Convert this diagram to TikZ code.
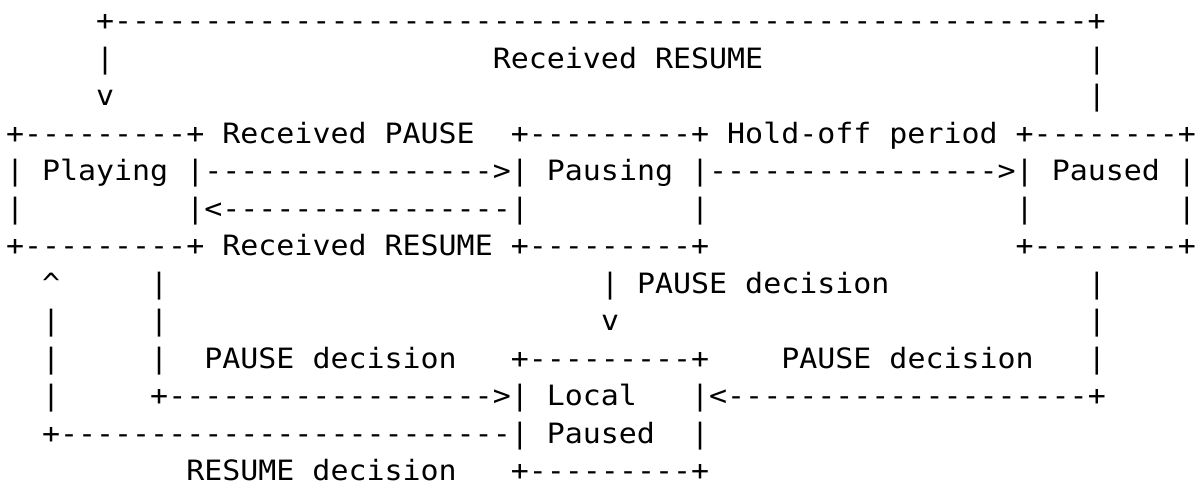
\documentclass[tikz,border=0pt]{standalone}
\usepackage{fontspec}
\setmonofont{DejaVu Sans Mono}[FakeStretch=1.0695]
\newcommand\dashrun[1]{\foreach\nd in {1,...,#1}{-}}

\begin{document}
\begin{tikzpicture}[x=9.015pt,y=-18.75pt,
  chars/.style={anchor=base west,inner sep=0pt,outer sep=0pt,
    font=\ttfamily\fontsize{14pt}{18pt}\selectfont}]
\useasboundingbox (-3pt,-3.5pt) rectangle (598pt,-247.5pt);

% row 1-3: Paused back to Playing
\node[chars] (topline) at (5,1) {+\dashrun{54}+};
\node[chars] (topleftA) at (5,2) {|};
\node[chars] (lblresumeA) at (27,2) {Received RESUME};
\node[chars] (toprightA) at (60,2) {|};
\node[chars] (topleftB) at (5,3) {v};
\node[chars] (toprightB) at (60,3) {|};

% row 4-7: Playing, Pausing, Paused
\node[chars] (playingtop) at (0,4) {+\dashrun{9}+};
\node[chars] (lblpause) at (12,4) {Received PAUSE};
\node[chars] (pausingtop) at (28,4) {+\dashrun{9}+};
\node[chars] (lblholdoff) at (40,4) {Hold-off period};
\node[chars] (pausedtop) at (56,4) {+\dashrun{8}+};

\node[chars] (playing) at (0,5) {| Playing |};
\node[chars] (arrowA) at (11,5) {\dashrun{16}>};
\node[chars] (pausing) at (28,5) {| Pausing |};
\node[chars] (arrowB) at (39,5) {\dashrun{16}>};
\node[chars] (paused) at (56,5) {| Paused |};

\node[chars] (playingL) at (0,6) {|};
\node[chars] (arrowC) at (10,6) {|<\dashrun{16}|};
\node[chars] (pausingR) at (38,6) {|};
\node[chars] (pausedL) at (56,6) {|};
\node[chars] (pausedR) at (65,6) {|};

\node[chars] (playingbot) at (0,7) {+\dashrun{9}+};
\node[chars] (lblresumeB) at (12,7) {Received RESUME};
\node[chars] (pausingbot) at (28,7) {+\dashrun{9}+};
\node[chars] (pausedbot) at (56,7) {+\dashrun{8}+};

% row 8-13: Local Paused
\node[chars] (upA) at (2,8) {\textasciicircum};
\node[chars] (downA) at (8,8) {|};
\node[chars] (downB) at (33,8) {| PAUSE decision};
\node[chars] (downC) at (60,8) {|};

\node[chars] (upB) at (2,9) {|};
\node[chars] (downD) at (8,9) {|};
\node[chars] (downE) at (33,9) {v};
\node[chars] (downF) at (60,9) {|};

\node[chars] (upC) at (2,10) {|};
\node[chars] (downG) at (8,10) {|};
\node[chars] (lbldecA) at (11,10) {PAUSE decision};
\node[chars] (localtop) at (28,10) {+\dashrun{9}+};
\node[chars] (lbldecB) at (43,10) {PAUSE decision};
\node[chars] (downH) at (60,10) {|};

\node[chars] (upD) at (2,11) {|};
\node[chars] (local) at (8,11) {+\dashrun{18}>| Local};
\node[chars] (arrowD) at (38,11) {|<\dashrun{20}+};

\node[chars] (localB) at (2,12) {+\dashrun{25}| Paused};
\node[chars] (localR) at (38,12) {|};

\node[chars] (lbldecC) at (10,13) {RESUME decision};
\node[chars] (localbot) at (28,13) {+\dashrun{9}+};

\end{tikzpicture}
\end{document}
